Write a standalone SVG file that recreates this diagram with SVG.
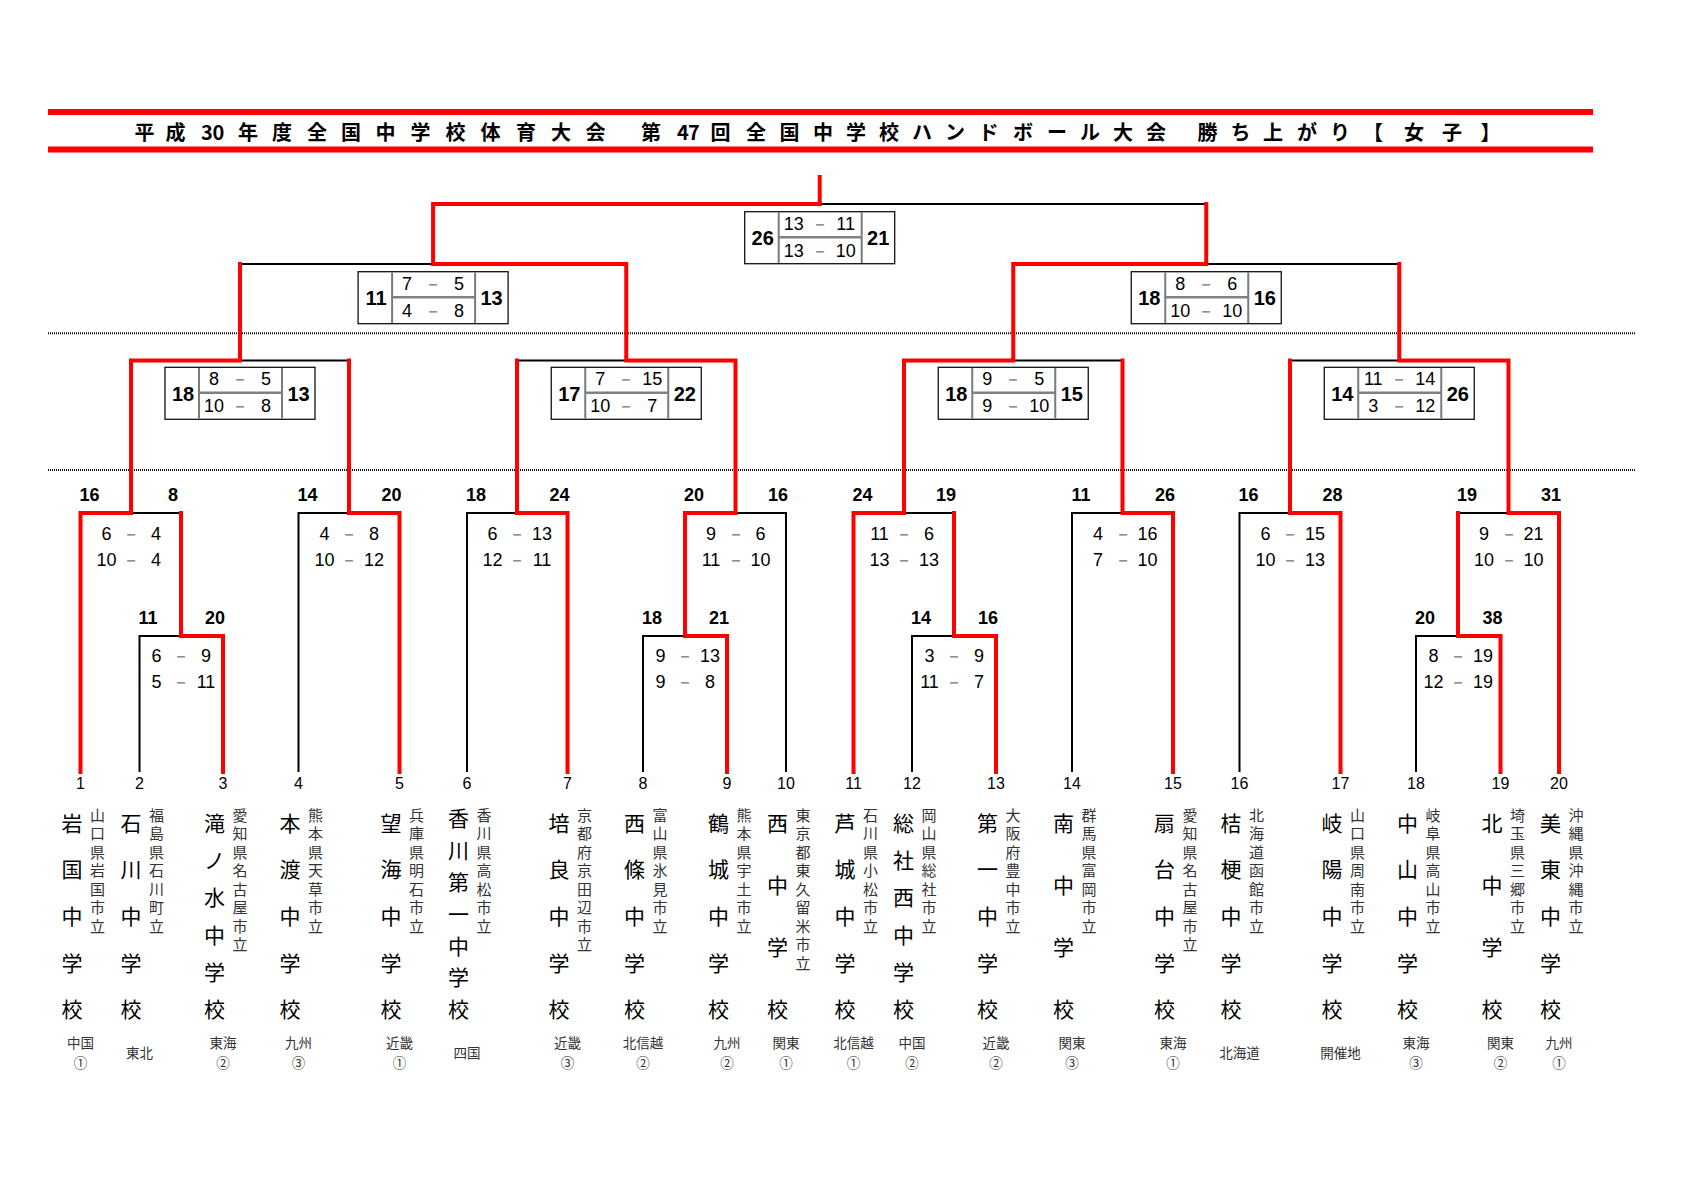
<svg xmlns="http://www.w3.org/2000/svg" xmlns:xlink="http://www.w3.org/1999/xlink" width="1684" height="1190" viewBox="0 0 1684 1190">
<style>
.red{fill:none;stroke:#f00;stroke-width:4;stroke-linecap:square;stroke-linejoin:miter}
.blk{fill:none;stroke:#000;stroke-width:2}
.dot{stroke:#111;stroke-width:2;stroke-dasharray:1 1}
.box{fill:#fff;stroke:#111;stroke-width:1.3}
.dv{stroke:#7a7a7a;stroke-width:2}
.md{stroke:#808080;stroke-width:2.5}
.t{font-family:"Liberation Sans",Arial,sans-serif;text-anchor:middle;dominant-baseline:central;fill:#000}
.lab{font-size:18px;font-weight:bold}
.sc{font-size:18px}
.bs{font-size:20px;font-weight:bold}
.num{font-size:16px}
.da{fill:#777}
.jp{font-family:"Noto Sans CJK JP","Noto Sans CJK SC",sans-serif;text-anchor:middle;dominant-baseline:central}
.ttl{font-size:20px;font-weight:bold;fill:#000}
.big{font-size:21px;fill:#000}
.sml{font-size:15px;fill:#333}
.reg{font-size:13.5px;fill:#333}
</style>
<defs>
<g id="frame">
<rect x="-75" y="0" width="150" height="52" class="box"/>
<line x1="-41" y1="0.6" x2="-41" y2="51.4" class="dv"/>
<line x1="42" y1="0.6" x2="42" y2="51.4" class="dv"/>
<line x1="-41" y1="25.5" x2="42" y2="25.5" class="md"/>
</g>
</defs>
<rect width="1684" height="1190" fill="#fff"/>

<g id="title">
<rect x="48" y="109" width="1545" height="6" fill="#f00"/>
<rect x="48" y="146.5" width="1545" height="6" fill="#f00"/>
<text class="jp ttl" y="131" x="144.6 175.5 207 218.5 248 282 317 351 385.5 420.5 455.5 490.5 526 561 595.5 623 651 683 694 720.5 756 789.5 823 856 889 922 955 988.5 1023 1057 1090 1123 1156 1182 1207.5 1240.5 1273 1307 1340 1373 1414 1452 1490.5">平成30年度全国中学校体育大会　第47回全国中学校ハンドボール大会　勝ち上がり【女子】</text>
</g>

<g id="guides">
<line x1="48" y1="333.3" x2="1636" y2="333.3" class="dot"/>
<line x1="48" y1="470" x2="1636" y2="470" class="dot"/>
</g>

<g id="connectors">
<path class="blk" d="M80.5 772V513H181V636M139.5 772V636H223V772M131 513V360.5H349V513M298.5 772V513H399.5V772M240 360.5V264H626.25V360.5M517 513V360.5H735.5V513M467 772V513H567.5V772M685 636V513H786V772M643 772V636H727V772M433.1 264V204H1206.25V264M819.7 204V177M1013.25 360.5V264H1399.25V360.5M904 513V360.5H1122.5V513M853.5 772V513H954V636M912 772V636H996V772M1072 772V513H1173V772M1290 513V360.5H1508.5V513M1239.5 772V513H1340.5V772M1458 636V513H1559V772M1416 772V636H1500.5V772"/>
<path class="red" d="M80.5 772V513H131V360.5H240V264"/>
<path class="red" d="M223 772V636H181V513"/>
<path class="red" d="M399.5 772V513H349V360.5"/>
<path class="red" d="M567.5 772V513H517V360.5"/>
<path class="red" d="M727 772V636H685V513H735.5V360.5H626.25V264H433.1V204H819.7V177"/>
<path class="red" d="M853.5 772V513H904V360.5H1013.25V264H1206.25V204"/>
<path class="red" d="M996 772V636H954V513"/>
<path class="red" d="M1173 772V513H1122.5V360.5"/>
<path class="red" d="M1340.5 772V513H1290V360.5"/>
<path class="red" d="M1559 772V513H1508.5V360.5H1399.25V264"/>
<path class="red" d="M1500.5 772V636H1458V513"/>
</g>

<g id="final" transform="translate(819.7,211.7)">
<use xlink:href="#frame"/>
<text class="t bs" x="-57" y="26.5">26</text><text class="t bs" x="58.5" y="26.5">21</text>
<text class="t sc"><tspan x="-26" y="12">13</tspan><tspan class="da" x="0" y="12">－</tspan><tspan x="26" y="12">11</tspan></text>
<text class="t sc"><tspan x="-26" y="39">13</tspan><tspan class="da" x="0" y="39">－</tspan><tspan x="26" y="39">10</tspan></text>
</g>
<g id="semi1" transform="translate(433.1,271.7)">
<use xlink:href="#frame"/>
<text class="t bs" x="-57" y="26.5">11</text><text class="t bs" x="58.5" y="26.5">13</text>
<text class="t sc"><tspan x="-26" y="12">7</tspan><tspan class="da" x="0" y="12">－</tspan><tspan x="26" y="12">5</tspan></text>
<text class="t sc"><tspan x="-26" y="39">4</tspan><tspan class="da" x="0" y="39">－</tspan><tspan x="26" y="39">8</tspan></text>
</g>
<g id="semi2" transform="translate(1206.25,271.7)">
<use xlink:href="#frame"/>
<text class="t bs" x="-57" y="26.5">18</text><text class="t bs" x="58.5" y="26.5">16</text>
<text class="t sc"><tspan x="-26" y="12">8</tspan><tspan class="da" x="0" y="12">－</tspan><tspan x="26" y="12">6</tspan></text>
<text class="t sc"><tspan x="-26" y="39">10</tspan><tspan class="da" x="0" y="39">－</tspan><tspan x="26" y="39">10</tspan></text>
</g>
<g id="qf1" transform="translate(240,367.3)">
<use xlink:href="#frame"/>
<text class="t bs" x="-57" y="26.5">18</text><text class="t bs" x="58.5" y="26.5">13</text>
<text class="t sc"><tspan x="-26" y="12">8</tspan><tspan class="da" x="0" y="12">－</tspan><tspan x="26" y="12">5</tspan></text>
<text class="t sc"><tspan x="-26" y="39">10</tspan><tspan class="da" x="0" y="39">－</tspan><tspan x="26" y="39">8</tspan></text>
</g>
<g id="qf2" transform="translate(626.25,367.3)">
<use xlink:href="#frame"/>
<text class="t bs" x="-57" y="26.5">17</text><text class="t bs" x="58.5" y="26.5">22</text>
<text class="t sc"><tspan x="-26" y="12">7</tspan><tspan class="da" x="0" y="12">－</tspan><tspan x="26" y="12">15</tspan></text>
<text class="t sc"><tspan x="-26" y="39">10</tspan><tspan class="da" x="0" y="39">－</tspan><tspan x="26" y="39">7</tspan></text>
</g>
<g id="qf3" transform="translate(1013.25,367.3)">
<use xlink:href="#frame"/>
<text class="t bs" x="-57" y="26.5">18</text><text class="t bs" x="58.5" y="26.5">15</text>
<text class="t sc"><tspan x="-26" y="12">9</tspan><tspan class="da" x="0" y="12">－</tspan><tspan x="26" y="12">5</tspan></text>
<text class="t sc"><tspan x="-26" y="39">9</tspan><tspan class="da" x="0" y="39">－</tspan><tspan x="26" y="39">10</tspan></text>
</g>
<g id="qf4" transform="translate(1399.25,367.3)">
<use xlink:href="#frame"/>
<text class="t bs" x="-57" y="26.5">14</text><text class="t bs" x="58.5" y="26.5">26</text>
<text class="t sc"><tspan x="-26" y="12">11</tspan><tspan class="da" x="0" y="12">－</tspan><tspan x="26" y="12">14</tspan></text>
<text class="t sc"><tspan x="-26" y="39">3</tspan><tspan class="da" x="0" y="39">－</tspan><tspan x="26" y="39">12</tspan></text>
</g>

<g id="r1-1"><text class="t lab" y="495"><tspan x="89.5">16</tspan><tspan x="173">8</tspan></text>
<text class="t sc"><tspan x="106.5" y="534">6</tspan><tspan class="da" x="131" y="534">－</tspan><tspan x="156" y="534">4</tspan></text>
<text class="t sc"><tspan x="106.5" y="560">10</tspan><tspan class="da" x="131" y="560">－</tspan><tspan x="156" y="560">4</tspan></text></g>
<g id="r0-1"><text class="t lab" y="618"><tspan x="148">11</tspan><tspan x="215">20</tspan></text>
<text class="t sc"><tspan x="156.5" y="656">6</tspan><tspan class="da" x="181" y="656">－</tspan><tspan x="206" y="656">9</tspan></text>
<text class="t sc"><tspan x="156.5" y="682">5</tspan><tspan class="da" x="181" y="682">－</tspan><tspan x="206" y="682">11</tspan></text></g>
<g id="r1-2"><text class="t lab" y="495"><tspan x="307.5">14</tspan><tspan x="391.5">20</tspan></text>
<text class="t sc"><tspan x="324.5" y="534">4</tspan><tspan class="da" x="349" y="534">－</tspan><tspan x="374" y="534">8</tspan></text>
<text class="t sc"><tspan x="324.5" y="560">10</tspan><tspan class="da" x="349" y="560">－</tspan><tspan x="374" y="560">12</tspan></text></g>
<g id="r1-3"><text class="t lab" y="495"><tspan x="476">18</tspan><tspan x="559.5">24</tspan></text>
<text class="t sc"><tspan x="492.5" y="534">6</tspan><tspan class="da" x="517" y="534">－</tspan><tspan x="542" y="534">13</tspan></text>
<text class="t sc"><tspan x="492.5" y="560">12</tspan><tspan class="da" x="517" y="560">－</tspan><tspan x="542" y="560">11</tspan></text></g>
<g id="r1-4"><text class="t lab" y="495"><tspan x="694">20</tspan><tspan x="778">16</tspan></text>
<text class="t sc"><tspan x="711" y="534">9</tspan><tspan class="da" x="735.5" y="534">－</tspan><tspan x="760.5" y="534">6</tspan></text>
<text class="t sc"><tspan x="711" y="560">11</tspan><tspan class="da" x="735.5" y="560">－</tspan><tspan x="760.5" y="560">10</tspan></text></g>
<g id="r0-4"><text class="t lab" y="618"><tspan x="652">18</tspan><tspan x="719">21</tspan></text>
<text class="t sc"><tspan x="660.5" y="656">9</tspan><tspan class="da" x="685" y="656">－</tspan><tspan x="710" y="656">13</tspan></text>
<text class="t sc"><tspan x="660.5" y="682">9</tspan><tspan class="da" x="685" y="682">－</tspan><tspan x="710" y="682">8</tspan></text></g>
<g id="r1-5"><text class="t lab" y="495"><tspan x="862.5">24</tspan><tspan x="946">19</tspan></text>
<text class="t sc"><tspan x="879.5" y="534">11</tspan><tspan class="da" x="904" y="534">－</tspan><tspan x="929" y="534">6</tspan></text>
<text class="t sc"><tspan x="879.5" y="560">13</tspan><tspan class="da" x="904" y="560">－</tspan><tspan x="929" y="560">13</tspan></text></g>
<g id="r0-5"><text class="t lab" y="618"><tspan x="921">14</tspan><tspan x="988">16</tspan></text>
<text class="t sc"><tspan x="929.5" y="656">3</tspan><tspan class="da" x="954" y="656">－</tspan><tspan x="979" y="656">9</tspan></text>
<text class="t sc"><tspan x="929.5" y="682">11</tspan><tspan class="da" x="954" y="682">－</tspan><tspan x="979" y="682">7</tspan></text></g>
<g id="r1-6"><text class="t lab" y="495"><tspan x="1081">11</tspan><tspan x="1165">26</tspan></text>
<text class="t sc"><tspan x="1098" y="534">4</tspan><tspan class="da" x="1122.5" y="534">－</tspan><tspan x="1147.5" y="534">16</tspan></text>
<text class="t sc"><tspan x="1098" y="560">7</tspan><tspan class="da" x="1122.5" y="560">－</tspan><tspan x="1147.5" y="560">10</tspan></text></g>
<g id="r1-7"><text class="t lab" y="495"><tspan x="1248.5">16</tspan><tspan x="1332.5">28</tspan></text>
<text class="t sc"><tspan x="1265.5" y="534">6</tspan><tspan class="da" x="1290" y="534">－</tspan><tspan x="1315" y="534">15</tspan></text>
<text class="t sc"><tspan x="1265.5" y="560">10</tspan><tspan class="da" x="1290" y="560">－</tspan><tspan x="1315" y="560">13</tspan></text></g>
<g id="r1-8"><text class="t lab" y="495"><tspan x="1467">19</tspan><tspan x="1551">31</tspan></text>
<text class="t sc"><tspan x="1484" y="534">9</tspan><tspan class="da" x="1508.5" y="534">－</tspan><tspan x="1533.5" y="534">21</tspan></text>
<text class="t sc"><tspan x="1484" y="560">10</tspan><tspan class="da" x="1508.5" y="560">－</tspan><tspan x="1533.5" y="560">10</tspan></text></g>
<g id="r0-8"><text class="t lab" y="618"><tspan x="1425">20</tspan><tspan x="1492.5">38</tspan></text>
<text class="t sc"><tspan x="1433.5" y="656">8</tspan><tspan class="da" x="1458" y="656">－</tspan><tspan x="1483" y="656">19</tspan></text>
<text class="t sc"><tspan x="1433.5" y="682">12</tspan><tspan class="da" x="1458" y="682">－</tspan><tspan x="1483" y="682">19</tspan></text></g>

<g id="team1" transform="translate(80.5,0)"><text class="t num" x="0" y="783">1</text>
<text class="jp big" x="-8.5 -8.5 -8.5 -8.5 -8.5" y="821.7 868.4 915 961.7 1008.3">岩国中学校</text>
<text class="jp sml" x="17 17 17 17 17 17 17" y="814 832.5 851 869.5 888 906.5 925">山口県岩国市立</text>
<text class="jp reg"><tspan x="0" y="1042">中国</tspan><tspan x="0" y="1062">①</tspan></text></g>
<g id="team2" transform="translate(139.5,0)"><text class="t num" x="0" y="783">2</text>
<text class="jp big" x="-8.5 -8.5 -8.5 -8.5 -8.5" y="821.7 868.4 915 961.7 1008.3">石川中学校</text>
<text class="jp sml" x="17 17 17 17 17 17 17" y="814 832.5 851 869.5 888 906.5 925">福島県石川町立</text>
<text class="jp reg" x="0" y="1052">東北</text></g>
<g id="team3" transform="translate(223,0)"><text class="t num" x="0" y="783">3</text>
<text class="jp big" x="-8.5 -8.5 -8.5 -8.5 -8.5 -8.5" y="821.7 859 896.3 933.7 971 1008.3">滝ノ水中学校</text>
<text class="jp sml" x="17 17 17 17 17 17 17 17" y="814 832.5 851 869.5 888 906.5 925 943.5">愛知県名古屋市立</text>
<text class="jp reg"><tspan x="0" y="1042">東海</tspan><tspan x="0" y="1062">②</tspan></text></g>
<g id="team4" transform="translate(298.5,0)"><text class="t num" x="0" y="783">4</text>
<text class="jp big" x="-8.5 -8.5 -8.5 -8.5 -8.5" y="821.7 868.4 915 961.7 1008.3">本渡中学校</text>
<text class="jp sml" x="17 17 17 17 17 17 17" y="814 832.5 851 869.5 888 906.5 925">熊本県天草市立</text>
<text class="jp reg"><tspan x="0" y="1042">九州</tspan><tspan x="0" y="1062">③</tspan></text></g>
<g id="team5" transform="translate(399.5,0)"><text class="t num" x="0" y="783">5</text>
<text class="jp big" x="-8.5 -8.5 -8.5 -8.5 -8.5" y="821.7 868.4 915 961.7 1008.3">望海中学校</text>
<text class="jp sml" x="17 17 17 17 17 17 17" y="814 832.5 851 869.5 888 906.5 925">兵庫県明石市立</text>
<text class="jp reg"><tspan x="0" y="1042">近畿</tspan><tspan x="0" y="1062">①</tspan></text></g>
<g id="team6" transform="translate(467,0)"><text class="t num" x="0" y="783">6</text>
<text class="jp big" x="-8.5 -8.5 -8.5 -8.5 -8.5 -8.5 -8.5" y="817 848.9 880.8 912.7 944.5 976.4 1008.3">香川第一中学校</text>
<text class="jp sml" x="17 17 17 17 17 17 17" y="814 832.5 851 869.5 888 906.5 925">香川県高松市立</text>
<text class="jp reg" x="0" y="1052">四国</text></g>
<g id="team7" transform="translate(567.5,0)"><text class="t num" x="0" y="783">7</text>
<text class="jp big" x="-8.5 -8.5 -8.5 -8.5 -8.5" y="821.7 868.4 915 961.7 1008.3">培良中学校</text>
<text class="jp sml" x="17 17 17 17 17 17 17 17" y="814 832.5 851 869.5 888 906.5 925 943.5">京都府京田辺市立</text>
<text class="jp reg"><tspan x="0" y="1042">近畿</tspan><tspan x="0" y="1062">③</tspan></text></g>
<g id="team8" transform="translate(643,0)"><text class="t num" x="0" y="783">8</text>
<text class="jp big" x="-8.5 -8.5 -8.5 -8.5 -8.5" y="821.7 868.4 915 961.7 1008.3">西條中学校</text>
<text class="jp sml" x="17 17 17 17 17 17 17" y="814 832.5 851 869.5 888 906.5 925">富山県氷見市立</text>
<text class="jp reg"><tspan x="0" y="1042">北信越</tspan><tspan x="0" y="1062">②</tspan></text></g>
<g id="team9" transform="translate(727,0)"><text class="t num" x="0" y="783">9</text>
<text class="jp big" x="-8.5 -8.5 -8.5 -8.5 -8.5" y="821.7 868.4 915 961.7 1008.3">鶴城中学校</text>
<text class="jp sml" x="17 17 17 17 17 17 17" y="814 832.5 851 869.5 888 906.5 925">熊本県宇土市立</text>
<text class="jp reg"><tspan x="0" y="1042">九州</tspan><tspan x="0" y="1062">②</tspan></text></g>
<g id="team10" transform="translate(786,0)"><text class="t num" x="0" y="783">10</text>
<text class="jp big" x="-8.5 -8.5 -8.5 -8.5" y="821.7 883.9 946.1 1008.3">西中学校</text>
<text class="jp sml" x="17 17 17 17 17 17 17 17 17" y="814 832.5 851 869.5 888 906.5 925 943.5 962">東京都東久留米市立</text>
<text class="jp reg"><tspan x="0" y="1042">関東</tspan><tspan x="0" y="1062">①</tspan></text></g>
<g id="team11" transform="translate(853.5,0)"><text class="t num" x="0" y="783">11</text>
<text class="jp big" x="-8.5 -8.5 -8.5 -8.5 -8.5" y="821.7 868.4 915 961.7 1008.3">芦城中学校</text>
<text class="jp sml" x="17 17 17 17 17 17 17" y="814 832.5 851 869.5 888 906.5 925">石川県小松市立</text>
<text class="jp reg"><tspan x="0" y="1042">北信越</tspan><tspan x="0" y="1062">①</tspan></text></g>
<g id="team12" transform="translate(912,0)"><text class="t num" x="0" y="783">12</text>
<text class="jp big" x="-8.5 -8.5 -8.5 -8.5 -8.5 -8.5" y="821.7 859 896.3 933.7 971 1008.3">総社西中学校</text>
<text class="jp sml" x="17 17 17 17 17 17 17" y="814 832.5 851 869.5 888 906.5 925">岡山県総社市立</text>
<text class="jp reg"><tspan x="0" y="1042">中国</tspan><tspan x="0" y="1062">②</tspan></text></g>
<g id="team13" transform="translate(996,0)"><text class="t num" x="0" y="783">13</text>
<text class="jp big" x="-8.5 -8.5 -8.5 -8.5 -8.5" y="821.7 868.4 915 961.7 1008.3">第一中学校</text>
<text class="jp sml" x="17 17 17 17 17 17 17" y="814 832.5 851 869.5 888 906.5 925">大阪府豊中市立</text>
<text class="jp reg"><tspan x="0" y="1042">近畿</tspan><tspan x="0" y="1062">②</tspan></text></g>
<g id="team14" transform="translate(1072,0)"><text class="t num" x="0" y="783">14</text>
<text class="jp big" x="-8.5 -8.5 -8.5 -8.5" y="821.7 883.9 946.1 1008.3">南中学校</text>
<text class="jp sml" x="17 17 17 17 17 17 17" y="814 832.5 851 869.5 888 906.5 925">群馬県富岡市立</text>
<text class="jp reg"><tspan x="0" y="1042">関東</tspan><tspan x="0" y="1062">③</tspan></text></g>
<g id="team15" transform="translate(1173,0)"><text class="t num" x="0" y="783">15</text>
<text class="jp big" x="-8.5 -8.5 -8.5 -8.5 -8.5" y="821.7 868.4 915 961.7 1008.3">扇台中学校</text>
<text class="jp sml" x="17 17 17 17 17 17 17 17" y="814 832.5 851 869.5 888 906.5 925 943.5">愛知県名古屋市立</text>
<text class="jp reg"><tspan x="0" y="1042">東海</tspan><tspan x="0" y="1062">①</tspan></text></g>
<g id="team16" transform="translate(1239.5,0)"><text class="t num" x="0" y="783">16</text>
<text class="jp big" x="-8.5 -8.5 -8.5 -8.5 -8.5" y="821.7 868.4 915 961.7 1008.3">桔梗中学校</text>
<text class="jp sml" x="17 17 17 17 17 17 17" y="814 832.5 851 869.5 888 906.5 925">北海道函館市立</text>
<text class="jp reg" x="0" y="1052">北海道</text></g>
<g id="team17" transform="translate(1340.5,0)"><text class="t num" x="0" y="783">17</text>
<text class="jp big" x="-8.5 -8.5 -8.5 -8.5 -8.5" y="821.7 868.4 915 961.7 1008.3">岐陽中学校</text>
<text class="jp sml" x="17 17 17 17 17 17 17" y="814 832.5 851 869.5 888 906.5 925">山口県周南市立</text>
<text class="jp reg" x="0" y="1052">開催地</text></g>
<g id="team18" transform="translate(1416,0)"><text class="t num" x="0" y="783">18</text>
<text class="jp big" x="-8.5 -8.5 -8.5 -8.5 -8.5" y="821.7 868.4 915 961.7 1008.3">中山中学校</text>
<text class="jp sml" x="17 17 17 17 17 17 17" y="814 832.5 851 869.5 888 906.5 925">岐阜県高山市立</text>
<text class="jp reg"><tspan x="0" y="1042">東海</tspan><tspan x="0" y="1062">③</tspan></text></g>
<g id="team19" transform="translate(1500.5,0)"><text class="t num" x="0" y="783">19</text>
<text class="jp big" x="-8.5 -8.5 -8.5 -8.5" y="821.7 883.9 946.1 1008.3">北中学校</text>
<text class="jp sml" x="17 17 17 17 17 17 17" y="814 832.5 851 869.5 888 906.5 925">埼玉県三郷市立</text>
<text class="jp reg"><tspan x="0" y="1042">関東</tspan><tspan x="0" y="1062">②</tspan></text></g>
<g id="team20" transform="translate(1559,0)"><text class="t num" x="0" y="783">20</text>
<text class="jp big" x="-8.5 -8.5 -8.5 -8.5 -8.5" y="821.7 868.4 915 961.7 1008.3">美東中学校</text>
<text class="jp sml" x="17 17 17 17 17 17 17" y="814 832.5 851 869.5 888 906.5 925">沖縄県沖縄市立</text>
<text class="jp reg"><tspan x="0" y="1042">九州</tspan><tspan x="0" y="1062">①</tspan></text></g>
</svg>
